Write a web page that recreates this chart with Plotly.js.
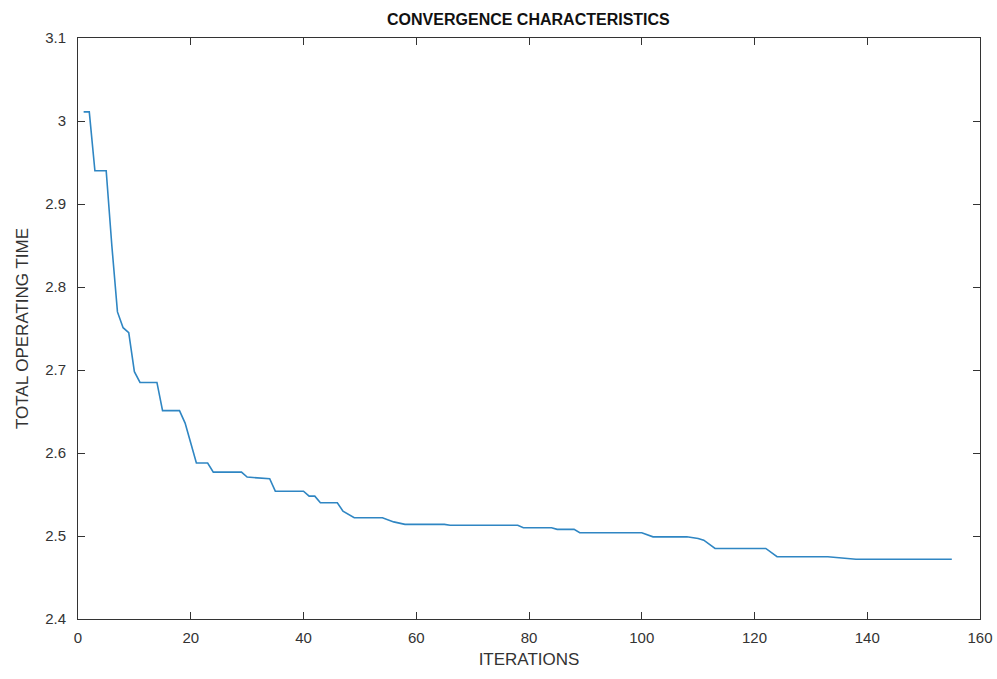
<!DOCTYPE html>
<html>
<head>
<meta charset="utf-8">
<script src="https://cdn.plot.ly/plotly-3.0.1.min.js"></script>
<style>html,body{margin:0;padding:0;background:#fff;}#chart{width:997px;height:679px;}</style>
</head>
<body>
<div id="chart"></div>
<script>
// Iteration numbers (at each visible step/bend)
var iterations = [1, 2, 3, 4, 5, 6, 7, 8, 9, 10, 11, 14, 15, 18, 19, 20, 21, 23, 24, 29, 30, 34, 35, 40, 41, 42, 43, 46, 47, 49, 54, 56, 58, 65, 66, 78, 79, 84, 85, 88, 89, 100, 102, 108, 110, 111, 113, 122, 124, 133, 138, 155];
// Total operating time at those iterations
var totalTime = [3.011, 3.011, 2.940, 2.940, 2.940, 2.850, 2.770, 2.751, 2.745, 2.698, 2.685, 2.685, 2.651, 2.651, 2.636, 2.612, 2.588, 2.588, 2.577, 2.577, 2.571, 2.569, 2.554, 2.554, 2.548, 2.548, 2.540, 2.540, 2.530, 2.522, 2.522, 2.517, 2.514, 2.514, 2.513, 2.513, 2.510, 2.510, 2.508, 2.508, 2.504, 2.504, 2.499, 2.499, 2.497, 2.495, 2.485, 2.485, 2.475, 2.475, 2.472, 2.472];
var xTicks = [0, 20, 40, 60, 80, 100, 120, 140, 160];
var yTicks = [2.4, 2.5, 2.6, 2.7, 2.8, 2.9, 3.0, 3.1];
var yTickText = ['2.4', '2.5', '2.6', '2.7', '2.8', '2.9', '3', '3.1'];

var tickFont = {family: 'Liberation Sans, Arial, sans-serif', size: 15, color: '#333333'};

var trace = {
  x: iterations,
  y: totalTime,
  type: 'scatter',
  mode: 'lines',
  line: {color: '#2f86c3', width: 1.6, shape: 'linear'},
  hoverinfo: 'x+y'
};

var layout = {
  width: 997,
  height: 679,
  margin: {l: 78, r: 17, t: 38, b: 60},
  paper_bgcolor: '#ffffff',
  plot_bgcolor: '#ffffff',
  showlegend: false,
  title: {
    text: '<b>CONVERGENCE CHARACTERISTICS</b>',
    font: {family: 'Liberation Sans, Arial, sans-serif', size: 16, color: '#111111'},
    x: 0.53, xanchor: 'center', y: 0.972, yanchor: 'middle'
  },
  xaxis: {
    range: [0, 160],
    tickvals: xTicks,
    ticktext: xTicks.map(String),
    ticks: 'inside', ticklen: 7, tickwidth: 1, tickcolor: '#333333',
    showline: true, linecolor: '#333333', linewidth: 1, mirror: 'allticks',
    showgrid: false, zeroline: false,
    tickfont: tickFont,
    ticklabelstandoff: 5,
    title: {text: 'ITERATIONS', font: {family: 'Liberation Sans, Arial, sans-serif', size: 17, color: '#333333'}, standoff: 8}
  },
  yaxis: {
    range: [2.4, 3.1],
    tickvals: yTicks,
    ticktext: yTickText,
    ticks: 'inside', ticklen: 7, tickwidth: 1, tickcolor: '#333333',
    showline: true, linecolor: '#333333', linewidth: 1, mirror: 'allticks',
    showgrid: false, zeroline: false,
    tickfont: tickFont,
    ticklabelstandoff: 8,
    title: {text: 'TOTAL OPERATING TIME', font: {family: 'Liberation Sans, Arial, sans-serif', size: 17, color: '#333333'}, standoff: 12}
  }
};

Plotly.newPlot('chart', [trace], layout, {displayModeBar: false, staticPlot: true});
</script>
</body>
</html>
